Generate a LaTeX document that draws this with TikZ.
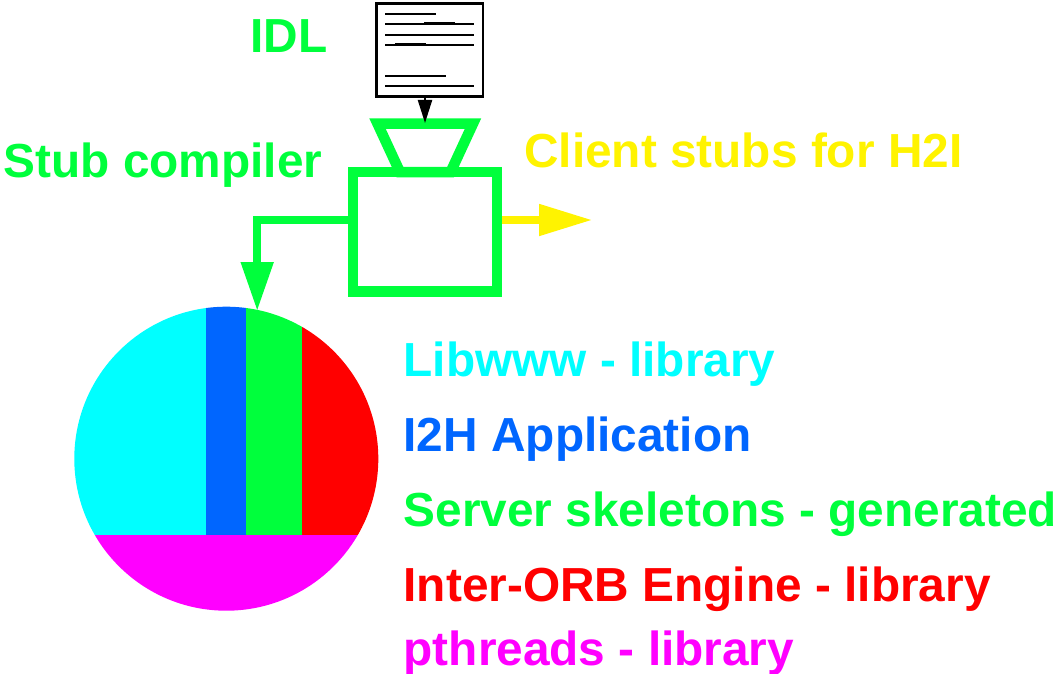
\documentclass[tikz,border=0pt]{standalone}
\usepackage{fontspec}
\setmainfont{Liberation Sans}
\usetikzlibrary{arrows.meta}
\definecolor{fgreen}{RGB}{0,255,60}
\definecolor{fyellow}{RGB}{255,243,0}
\definecolor{fblue}{RGB}{0,102,255}
\definecolor{fcyan}{RGB}{0,255,255}
\definecolor{fred}{RGB}{255,0,0}
\definecolor{fmag}{RGB}{255,0,255}
\tikzset{
 lab/.style={anchor=base west,inner sep=0pt,font=\fontsize{47.8}{52}\bfseries\selectfont},
 docline/.style={draw=black,line width=2.2pt},
 docthick/.style={draw=black,line width=3pt},
 wire/.style={line width=8pt},
}
\begin{document}
\begin{tikzpicture}[x=1pt,y=-1pt]
\useasboundingbox (0,0) rectangle (1057,674);
% pie
\begin{scope}
\clip (226.3,458.7) circle[radius=152];
\fill[fcyan] (70,300) rectangle (206,535);
\fill[fblue] (206,300) rectangle (245.7,535);
\fill[fgreen] (245.7,300) rectangle (302.3,535);
\fill[fred] (302.3,300) rectangle (385,535);
\fill[fmag] (70,535) rectangle (385,615);
\end{scope}
% document
\node[draw=black,line width=2.2pt,fill=white,minimum width=106.5pt,minimum height=93pt,inner sep=0pt,outer sep=1.1pt] (doc) at (429.7,50) {};
\draw[docline] (385,14) -- (436,14);
\draw[docline] (385,24) -- (474,24);
\draw[docline] (385,35) -- (474,35);
\draw[docline] (385,45) -- (474,45);
\draw[docline] (385,76) -- (445.7,76);
\draw[docline] (385,86) -- (474,86);
\draw[docthick] (424,24) -- (455,24);
\draw[docthick] (395,45) -- (426,45);
% compiler
\draw[fgreen,line width=10.5pt,miter limit=10] (377.5,123.6) -- (473,123.6) -- (450.6,172) -- (399.9,172) -- cycle;
\node[draw=fgreen,line width=10.5pt,minimum width=143.8pt,minimum height=119.5pt,inner sep=0pt,outer sep=5.25pt] (box) at (425,231.75) {};
\coordinate (doctip) at (425,123);
\coordinate (doctop) at (425,97.5);
\coordinate (pietip) at (257.2,311);
\coordinate (yellowtip) at (592.5,220);
\draw[line width=2.2pt,-{Triangle[length=23pt,width=14pt]},black] (doctop) -- (doctip);
\draw[wire,fgreen,-{Triangle[length=49pt,width=31pt]}] (box.west |- yellowtip) -| (pietip);
\draw[wire,fyellow,-{Triangle[length=53.5pt,width=30pt]}] (box.east |- yellowtip) -- (yellowtip);
% labels
\node[lab,text=fgreen] (idl) at (250,53) {IDL};
\node[lab,text=fgreen] (stub) at (3.5,177) {Stub compiler};
\node[lab,text=fyellow] (client) at (524,167) {Client stubs for H2I};
\node[lab,text=fcyan] (l1) at (403.5,376) {Libwww - library};
\node[lab,text=fblue] (l2) at (403.5,451) {I2H Application};
\node[lab,text=fgreen] (l3) at (403.5,526) {Server skeletons - generated};
\node[lab,text=fred] (l4) at (403.5,601) {Inter-ORB Engine - library};
\node[lab,text=fmag] (l5) at (403.5,665) {pthreads - library};
\end{tikzpicture}
\end{document}
